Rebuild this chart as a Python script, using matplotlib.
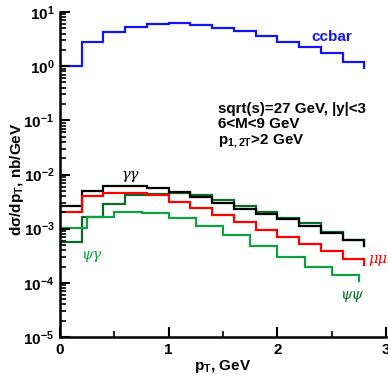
import matplotlib
matplotlib.use("Agg")
import matplotlib.pyplot as plt
import numpy as np
from matplotlib.ticker import LogLocator, FixedLocator, NullFormatter

plt.rcParams['font.family'] = ['Liberation Sans', 'DejaVu Sans']
plt.rcParams['font.weight'] = 'bold'
plt.rcParams['mathtext.fontset'] = 'custom'
plt.rcParams['mathtext.rm'] = 'Liberation Sans:bold'
plt.rcParams['mathtext.bf'] = 'Liberation Sans:bold'
plt.rcParams['mathtext.it'] = 'Liberation Sans:bold'

# bin edges (GeV)
edges_02 = np.arange(0, 2.81, 0.2)
edges_025 = np.arange(0, 2.76, 0.25)

# d sigma / dpT, nb/GeV
ccbar = [1.0, 2.75, 4.2, 5.3, 6.1, 6.35, 5.8, 5.1, 4.5, 3.65, 2.75, 2.23, 1.73, 1.18]
gamgam = [2.6e-3, 5.0e-3, 6.1e-3, 6.1e-3, 5.55e-3, 4.8e-3, 3.9e-3, 3.0e-3,
          2.3e-3, 1.86e-3, 1.48e-3, 1.1e-3, 8.3e-4, 6.2e-4]
mumu = [2.06e-3, 4.0e-3, 4.6e-3, 4.6e-3, 4.2e-3, 3.15e-3, 2.4e-3, 1.8e-3,
        1.32e-3, 9.5e-4, 7.0e-4, 5.2e-4, 3.9e-4, 2.75e-4]
psigam = [5.7e-4, 1.67e-3, 2.8e-3, 4.1e-3, 4.3e-3, 4.5e-3, 4.1e-3, 3.4e-3,
          2.6e-3, 2.05e-3, 1.6e-3, 1.25e-3, 8.8e-4, 6.2e-4]
psipsi = [1.02e-3, 1.67e-3, 2.06e-3, 1.92e-3, 1.55e-3, 1.1e-3, 7.6e-4,
          4.8e-4, 2.96e-4, 1.95e-4, 1.4e-4]

fig = plt.figure(figsize=(3.88, 3.80), dpi=100)
ax = fig.add_axes([60/388, 1-337/380, 326/388, 325/380])

def hist(edges, vals, color):
    ax.stairs(vals, edges, baseline=None, color=color, lw=1.6)
    # short drop at the end of each histogram
    ax.plot([edges[-1], edges[-1]], [vals[-1], vals[-1]*0.78], color=color, lw=1.6)

hist(edges_02, ccbar, '#1414f0')
hist(edges_02, psigam, '#0a6a2a')
hist(edges_02, gamgam, 'black')
hist(edges_02, mumu, '#ff0000')
hist(edges_025, psipsi, '#10a040')

ax.set_yscale('log')
ax.set_xlim(0, 3)
ax.set_ylim(1e-5, 1e1)

ax.xaxis.set_major_locator(FixedLocator([0, 1, 2, 3]))
ax.xaxis.set_minor_locator(FixedLocator([0.5, 1.5, 2.5]))
ax.yaxis.set_minor_locator(LogLocator(base=10, subs=np.arange(2, 10), numticks=20))
ax.yaxis.set_minor_formatter(NullFormatter())
yt = [1e-5, 1e-4, 1e-3, 1e-2, 1e-1, 1e0, 1e1]
ax.set_yticks(yt)
ax.set_yticklabels([r'$10^{%d}$' % int(np.log10(v)) for v in yt])

ax.tick_params(which='major', direction='in', length=7, width=1.5, labelsize=11, pad=4)
ax.tick_params(which='minor', direction='in', length=4, width=1.2)
for s in ['top', 'right']:
    ax.spines[s].set_visible(False)
for s in ['left', 'bottom']:
    ax.spines[s].set_linewidth(1.8)

ax.set_xlabel(r'p$_\mathrm{T}$, GeV', fontsize=11, fontweight='bold', labelpad=1)
ax.set_ylabel(r'd$\sigma$/dp$_\mathrm{T}$, nb/GeV', fontsize=11, fontweight='bold')
ax.yaxis.set_label_coords(-0.105, 0.486)

ax.text(0.834, 0.923, 'ccbar', transform=ax.transAxes, color='#1414f0',
        fontsize=11, fontweight='bold', ha='center', va='center')
ax.text(0.485, 0.649, 'sqrt(s)=27 GeV, |y|<3\n6<M<9 GeV\np$_{1,2T}$>2 GeV',
        transform=ax.transAxes, fontsize=10.9, fontweight='bold', ha='left', va='center',
        linespacing=1.1)

sym = dict(family='DejaVu Serif', style='italic', fontweight='normal', fontsize=10.5)
ax.text(0.215, 0.498, 'γγ', transform=ax.transAxes, color='black', ha='center', va='center', **sym)
ax.text(0.095, 0.253, 'ψγ', transform=ax.transAxes, color='#10a040', ha='center', va='center', **sym)
ax.text(0.975, 0.24, 'μμ', transform=ax.transAxes, color='#ff0000', ha='center', va='center', **sym)
ax.text(0.895, 0.13, 'ψψ', transform=ax.transAxes, color='#0a6a2a', ha='center', va='center', **sym)

fig.savefig('out.png', dpi=100)
